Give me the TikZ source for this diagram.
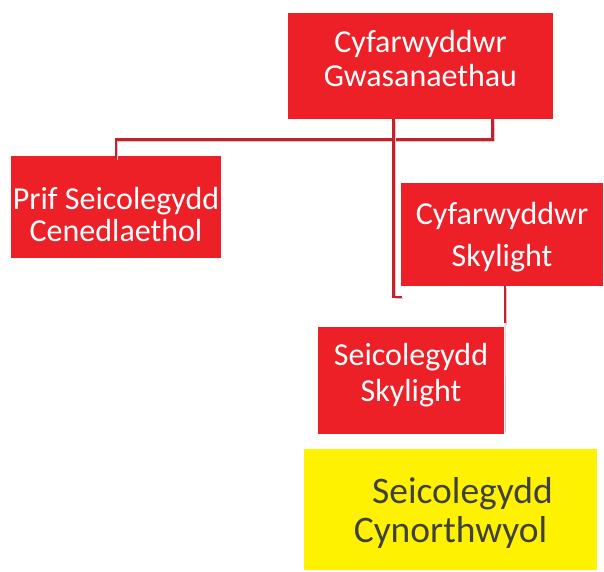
\documentclass[tikz,border=0pt]{standalone}
\usepackage{fontspec}
\setmainfont{Carlito}
\definecolor{boxred}{HTML}{ED2028}
\definecolor{linkred}{HTML}{C1222C}
\definecolor{textgrey}{HTML}{404040}

\begin{document}
\begin{tikzpicture}[x=1pt,y=-1pt,
                    red box/.style={fill=boxred,text=white,align=center,inner sep=0pt,text depth=0pt},
                    lines/.style 2 args={font=\fontsize{#1}{#2}\selectfont},
                    link/.style={draw=linkred,line width=2.6pt,
                                 preaction={draw=linkred!30,transform canvas={shift={(1.2pt,-1.5pt)}}}}]
  \useasboundingbox (0,0) rectangle (604,571);
  % boxes
  \node[red box,lines={32}{34},text height=40pt,minimum width=265pt,minimum height=106pt]
    (dir) at (420.5,66) {Cyfarwyddwr\\Gwasanaethau};
  \node[red box,lines={32}{32},text height=68pt,minimum width=210pt,minimum height=102pt]
    (prif) at (116,207) {Prif Seicolegydd\\Cenedlaethol};
  \node[red box,lines={32}{42},text height=63pt,minimum width=202pt,minimum height=103pt]
    (dirsky) at (502,234.5) {Cyfarwyddwr\\Skylight};
  \node[red box,lines={32}{36},text height=41pt,minimum width=186pt,minimum height=107pt]
    (seisky) at (411,380.5) {Seicolegydd\\Skylight};
  \node[fill=yellow,text=textgrey,align=center,inner sep=0pt,lines={37.5}{39},text height=65pt,text depth=0pt,
        minimum width=293pt,minimum height=121pt]
    (cyn) at (450.5,509.5) {\hspace*{24pt}Seicolegydd\\Cynorthwyol};
  % connectors
  \coordinate (skyin) at (402,297);
  \coordinate (skyend) at (505,323);
  \coordinate (skyfade) at (505.5,432);
  \draw[link] ([xshift=72pt]dir.south) |- ++(0,20) -| ([yshift=-3pt]prif.north);
  \draw[link] ([xshift=-27pt]dir.south) |- (skyin);
  \draw[link] (dirsky.south -| skyend) -- (skyend);
  \draw[linkred!30,line width=1pt] (skyend) -- (skyfade);
\end{tikzpicture}
\end{document}
